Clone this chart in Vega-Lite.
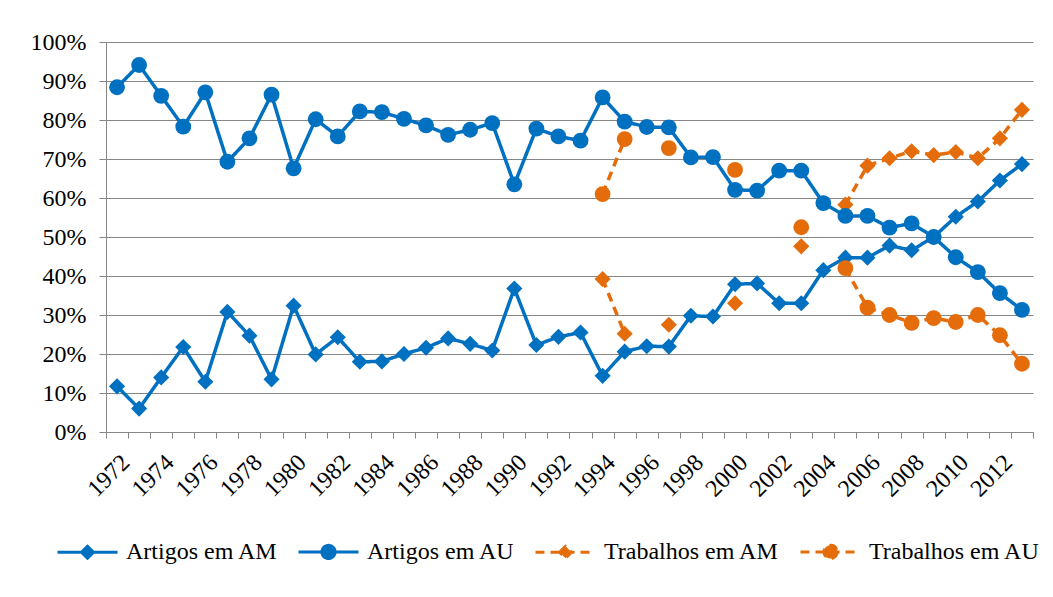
{
  "$schema": "https://vega.github.io/schema/vega-lite/v6.json",
  "width": 927,
  "height": 390,
  "padding": {"left": 30, "top": 30, "right": 5, "bottom": 5},
  "background": "white",
  "config": {
    "view": {"stroke": null},
    "font": "Liberation Serif",
    "axis": {
      "labelFont": "Liberation Serif",
      "labelFontSize": 24,
      "labelColor": "#000000",
      "domainColor": "#868686",
      "tickColor": "#868686",
      "gridColor": "#868686",
      "domainWidth": 1,
      "tickWidth": 1,
      "gridWidth": 1
    },
    "legend": {
      "labelFont": "Liberation Serif"
    }
  },
  "data": {
    "values": [
      {"year": 1972, "series": "Artigos em AU", "value": 88.4},
      {"year": 1973, "series": "Artigos em AU", "value": 94.1},
      {"year": 1974, "series": "Artigos em AU", "value": 86.2},
      {"year": 1975, "series": "Artigos em AU", "value": 78.3},
      {"year": 1976, "series": "Artigos em AU", "value": 87.1},
      {"year": 1977, "series": "Artigos em AU", "value": 69.3},
      {"year": 1978, "series": "Artigos em AU", "value": 75.3},
      {"year": 1979, "series": "Artigos em AU", "value": 86.5},
      {"year": 1980, "series": "Artigos em AU", "value": 67.6},
      {"year": 1981, "series": "Artigos em AU", "value": 80.2},
      {"year": 1982, "series": "Artigos em AU", "value": 75.8},
      {"year": 1983, "series": "Artigos em AU", "value": 82.2},
      {"year": 1984, "series": "Artigos em AU", "value": 82.0},
      {"year": 1985, "series": "Artigos em AU", "value": 80.3},
      {"year": 1986, "series": "Artigos em AU", "value": 78.6},
      {"year": 1987, "series": "Artigos em AU", "value": 76.2},
      {"year": 1988, "series": "Artigos em AU", "value": 77.5},
      {"year": 1989, "series": "Artigos em AU", "value": 79.2},
      {"year": 1990, "series": "Artigos em AU", "value": 63.5},
      {"year": 1991, "series": "Artigos em AU", "value": 77.8},
      {"year": 1992, "series": "Artigos em AU", "value": 75.8},
      {"year": 1993, "series": "Artigos em AU", "value": 74.7},
      {"year": 1994, "series": "Artigos em AU", "value": 85.8},
      {"year": 1995, "series": "Artigos em AU", "value": 79.6},
      {"year": 1996, "series": "Artigos em AU", "value": 78.2},
      {"year": 1997, "series": "Artigos em AU", "value": 78.1},
      {"year": 1998, "series": "Artigos em AU", "value": 70.4},
      {"year": 1999, "series": "Artigos em AU", "value": 70.5},
      {"year": 2000, "series": "Artigos em AU", "value": 62.1},
      {"year": 2001, "series": "Artigos em AU", "value": 61.9},
      {"year": 2002, "series": "Artigos em AU", "value": 67.0},
      {"year": 2003, "series": "Artigos em AU", "value": 67.0},
      {"year": 2004, "series": "Artigos em AU", "value": 58.7},
      {"year": 2005, "series": "Artigos em AU", "value": 55.4},
      {"year": 2006, "series": "Artigos em AU", "value": 55.4},
      {"year": 2007, "series": "Artigos em AU", "value": 52.4},
      {"year": 2008, "series": "Artigos em AU", "value": 53.5},
      {"year": 2009, "series": "Artigos em AU", "value": 50.0},
      {"year": 2010, "series": "Artigos em AU", "value": 44.8},
      {"year": 2011, "series": "Artigos em AU", "value": 41.0},
      {"year": 2012, "series": "Artigos em AU", "value": 35.6},
      {"year": 2013, "series": "Artigos em AU", "value": 31.3},

      {"year": 1972, "series": "Artigos em AM", "value": 11.7},
      {"year": 1973, "series": "Artigos em AM", "value": 6.0},
      {"year": 1974, "series": "Artigos em AM", "value": 14.0},
      {"year": 1975, "series": "Artigos em AM", "value": 21.8},
      {"year": 1976, "series": "Artigos em AM", "value": 12.9},
      {"year": 1977, "series": "Artigos em AM", "value": 30.8},
      {"year": 1978, "series": "Artigos em AM", "value": 24.7},
      {"year": 1979, "series": "Artigos em AM", "value": 13.5},
      {"year": 1980, "series": "Artigos em AM", "value": 32.4},
      {"year": 1981, "series": "Artigos em AM", "value": 19.9},
      {"year": 1982, "series": "Artigos em AM", "value": 24.3},
      {"year": 1983, "series": "Artigos em AM", "value": 18.0},
      {"year": 1984, "series": "Artigos em AM", "value": 18.1},
      {"year": 1985, "series": "Artigos em AM", "value": 20.0},
      {"year": 1986, "series": "Artigos em AM", "value": 21.6},
      {"year": 1987, "series": "Artigos em AM", "value": 24.0},
      {"year": 1988, "series": "Artigos em AM", "value": 22.6},
      {"year": 1989, "series": "Artigos em AM", "value": 20.9},
      {"year": 1990, "series": "Artigos em AM", "value": 36.8},
      {"year": 1991, "series": "Artigos em AM", "value": 22.3},
      {"year": 1992, "series": "Artigos em AM", "value": 24.4},
      {"year": 1993, "series": "Artigos em AM", "value": 25.5},
      {"year": 1994, "series": "Artigos em AM", "value": 14.4},
      {"year": 1995, "series": "Artigos em AM", "value": 20.6},
      {"year": 1996, "series": "Artigos em AM", "value": 22.0},
      {"year": 1997, "series": "Artigos em AM", "value": 21.9},
      {"year": 1998, "series": "Artigos em AM", "value": 29.8},
      {"year": 1999, "series": "Artigos em AM", "value": 29.6},
      {"year": 2000, "series": "Artigos em AM", "value": 37.9},
      {"year": 2001, "series": "Artigos em AM", "value": 38.1},
      {"year": 2002, "series": "Artigos em AM", "value": 33.0},
      {"year": 2003, "series": "Artigos em AM", "value": 33.0},
      {"year": 2004, "series": "Artigos em AM", "value": 41.5},
      {"year": 2005, "series": "Artigos em AM", "value": 44.7},
      {"year": 2006, "series": "Artigos em AM", "value": 44.7},
      {"year": 2007, "series": "Artigos em AM", "value": 47.8},
      {"year": 2008, "series": "Artigos em AM", "value": 46.6},
      {"year": 2009, "series": "Artigos em AM", "value": 50.0},
      {"year": 2010, "series": "Artigos em AM", "value": 55.2},
      {"year": 2011, "series": "Artigos em AM", "value": 59.1},
      {"year": 2012, "series": "Artigos em AM", "value": 64.5},
      {"year": 2013, "series": "Artigos em AM", "value": 68.7},

      {"year": 1994, "series": "Trabalhos em AM", "value": 39.2},
      {"year": 1995, "series": "Trabalhos em AM", "value": 25.2},
      {"year": 1996, "series": "Trabalhos em AM", "value": null},
      {"year": 1997, "series": "Trabalhos em AM", "value": 27.5},
      {"year": 1998, "series": "Trabalhos em AM", "value": null},
      {"year": 1999, "series": "Trabalhos em AM", "value": null},
      {"year": 2000, "series": "Trabalhos em AM", "value": 33.0},
      {"year": 2001, "series": "Trabalhos em AM", "value": null},
      {"year": 2002, "series": "Trabalhos em AM", "value": null},
      {"year": 2003, "series": "Trabalhos em AM", "value": 47.6},
      {"year": 2004, "series": "Trabalhos em AM", "value": null},
      {"year": 2005, "series": "Trabalhos em AM", "value": 58.3},
      {"year": 2006, "series": "Trabalhos em AM", "value": 68.3},
      {"year": 2007, "series": "Trabalhos em AM", "value": 70.2},
      {"year": 2008, "series": "Trabalhos em AM", "value": 72.0},
      {"year": 2009, "series": "Trabalhos em AM", "value": 71.0},
      {"year": 2010, "series": "Trabalhos em AM", "value": 71.8},
      {"year": 2011, "series": "Trabalhos em AM", "value": 70.2},
      {"year": 2012, "series": "Trabalhos em AM", "value": 75.3},
      {"year": 2013, "series": "Trabalhos em AM", "value": 82.6},

      {"year": 1994, "series": "Trabalhos em AU", "value": 61.0},
      {"year": 1995, "series": "Trabalhos em AU", "value": 75.1},
      {"year": 1996, "series": "Trabalhos em AU", "value": null},
      {"year": 1997, "series": "Trabalhos em AU", "value": 72.8},
      {"year": 1998, "series": "Trabalhos em AU", "value": null},
      {"year": 1999, "series": "Trabalhos em AU", "value": null},
      {"year": 2000, "series": "Trabalhos em AU", "value": 67.2},
      {"year": 2001, "series": "Trabalhos em AU", "value": null},
      {"year": 2002, "series": "Trabalhos em AU", "value": null},
      {"year": 2003, "series": "Trabalhos em AU", "value": 52.5},
      {"year": 2004, "series": "Trabalhos em AU", "value": null},
      {"year": 2005, "series": "Trabalhos em AU", "value": 42.0},
      {"year": 2006, "series": "Trabalhos em AU", "value": 31.9},
      {"year": 2007, "series": "Trabalhos em AU", "value": 30.0},
      {"year": 2008, "series": "Trabalhos em AU", "value": 28.0},
      {"year": 2009, "series": "Trabalhos em AU", "value": 29.2},
      {"year": 2010, "series": "Trabalhos em AU", "value": 28.2},
      {"year": 2011, "series": "Trabalhos em AU", "value": 30.0},
      {"year": 2012, "series": "Trabalhos em AU", "value": 24.8},
      {"year": 2013, "series": "Trabalhos em AU", "value": 17.5}
    ]
  },
  "encoding": {
    "x": {
      "field": "year",
      "type": "ordinal",
      "scale": {"type": "band", "paddingInner": 0, "paddingOuter": 0},
      "axis": {
        "title": null,
        "labelAngle": -45,
        "labelExpr": "datum.value % 2 == 0 ? datum.value : ''",
        "labelOverlap": false,
        "labelFont": "Liberation Serif",
        "labelFontSize": 24,
        "labelDx": -7,
        "tickBand": "extent",
        "grid": false,
        "tickSize": 6,
        "labelPadding": 12
      }
    },
    "y": {
      "field": "value",
      "type": "quantitative",
      "scale": {"domain": [0, 100]},
      "axis": {
        "title": null,
        "values": [0, 10, 20, 30, 40, 50, 60, 70, 80, 90, 100],
        "labelOverlap": false,
        "labelExpr": "datum.value + '%'",
        "labelFont": "Liberation Serif",
        "labelFontSize": 24,
        "tickSize": 7,
        "labelPadding": 13,
        "grid": true
      }
    }
  },
  "layer": [
    {
      "mark": {"type": "line", "strokeWidth": 3.5, "invalid": "break-paths-filter-domains"},
      "encoding": {
        "color": {
          "field": "series",
          "type": "nominal",
          "scale": {
            "domain": ["Artigos em AM", "Artigos em AU", "Trabalhos em AM", "Trabalhos em AU"],
            "range": ["#0070C0", "#0070C0", "#E46C0A", "#E46C0A"]
          },
          "legend": {
            "orient": "none",
            "legendX": -50,
            "legendY": 478,
            "direction": "horizontal",
            "columns": 4,
            "title": null,
            "labelFont": "Liberation Serif",
            "labelFontSize": 24,
            "labelColor": "#000000",
            "labelLimit": 400,
            "symbolSize": 3600,
            "symbolStrokeWidth": 3,
            "labelOffset": 7,
            "columnPadding": 14,
            "encode": {
              "symbols": {
                "update": {
                  "shape": {"signal": "(datum.value == 'Artigos em AM' || datum.value == 'Trabalhos em AM') ? 'M-1,0H1M-0.2,0L0,-0.2L0.2,0L0,0.2Z' : 'M-1,0H1M0.22,0A0.22,0.22,0,1,1,-0.22,0A0.22,0.22,0,1,1,0.22,0Z'"},
                  "fill": {"signal": "indexof(datum.value, 'Artigos') >= 0 ? '#0070C0' : '#E46C0A'"},
                  "stroke": {"signal": "indexof(datum.value, 'Artigos') >= 0 ? '#0070C0' : '#E46C0A'"},
                  "strokeDash": {"signal": "indexof(datum.value, 'Artigos') >= 0 ? [1, 0] : [8, 5]"},
                  "strokeWidth": {"value": 3},
                  "opacity": {"value": 1}
                }
              }
            }
          }
        },
        "strokeDash": {
          "field": "series",
          "type": "nominal",
          "scale": {
            "domain": ["Artigos em AM", "Artigos em AU", "Trabalhos em AM", "Trabalhos em AU"],
            "range": [[1, 0], [1, 0], [9, 6], [9, 6]]
          },
          "legend": null
        }
      }
    },
    {
      "transform": [{"filter": "indexof(datum.series, 'em AM') >= 0 && isValid(datum.value)"}],
      "mark": {"type": "point", "shape": "diamond", "filled": true, "opacity": 1, "size": 260},
      "encoding": {
        "fill": {
          "field": "series",
          "type": "nominal",
          "scale": {
            "domain": ["Artigos em AM", "Artigos em AU", "Trabalhos em AM", "Trabalhos em AU"],
            "range": ["#0070C0", "#0070C0", "#E46C0A", "#E46C0A"]
          },
          "legend": null
        }
      }
    },
    {
      "transform": [{"filter": "indexof(datum.series, 'em AU') >= 0 && isValid(datum.value)"}],
      "mark": {"type": "point", "shape": "circle", "filled": true, "opacity": 1, "size": 250},
      "encoding": {
        "fill": {
          "field": "series",
          "type": "nominal",
          "scale": {
            "domain": ["Artigos em AM", "Artigos em AU", "Trabalhos em AM", "Trabalhos em AU"],
            "range": ["#0070C0", "#0070C0", "#E46C0A", "#E46C0A"]
          },
          "legend": null
        }
      }
    }
  ]
}
